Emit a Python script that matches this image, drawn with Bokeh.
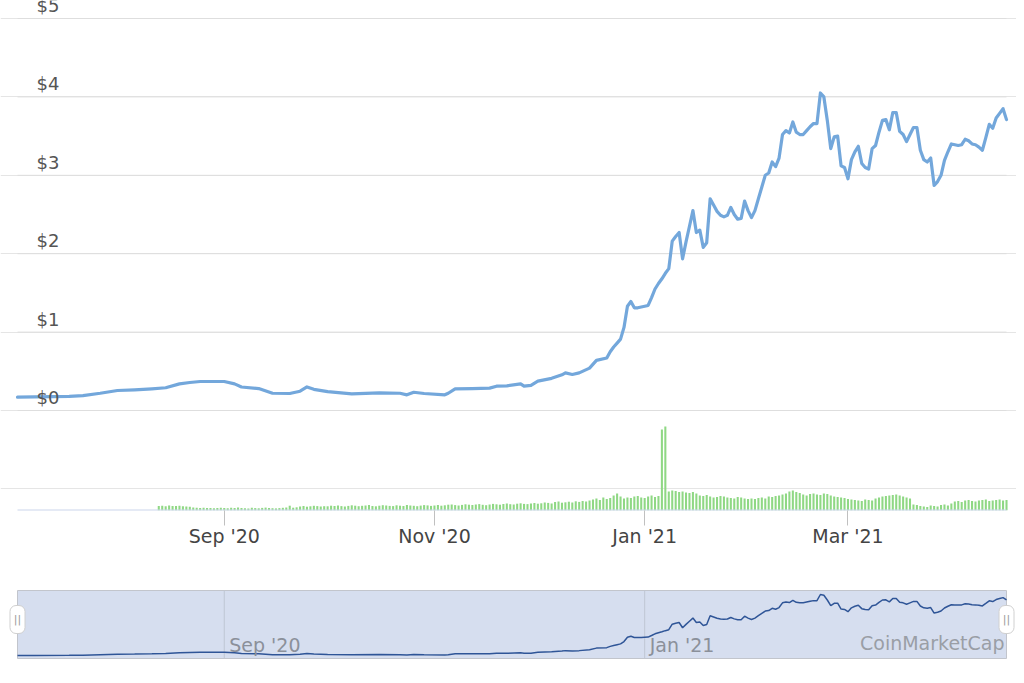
import numpy as np
import pandas as pd
from bokeh.plotting import figure
from bokeh.models import ColumnDataSource, Range1d, FixedTicker
from bokeh.layouts import column
from bokeh.embed import file_html
from bokeh.resources import INLINE
from bokeh.core.properties import value

# ---------------- data ----------------
# price, sparse readings (USD)
price_dates_early = [
    "2020-07-03", "2020-07-08", "2020-07-18", "2020-07-22", "2020-07-27", "2020-08-01",
    "2020-08-06", "2020-08-11", "2020-08-15", "2020-08-19", "2020-08-22", "2020-08-25",
    "2020-09-01", "2020-09-04", "2020-09-06", "2020-09-11", "2020-09-15", "2020-09-20",
    "2020-09-23", "2020-09-25", "2020-09-27", "2020-10-01", "2020-10-08", "2020-10-16",
    "2020-10-22", "2020-10-24", "2020-10-26", "2020-10-29", "2020-11-04", "2020-11-05",
    "2020-11-07", "2020-11-12", "2020-11-17", "2020-11-19", "2020-11-22", "2020-11-26",
    "2020-11-27", "2020-11-29", "2020-12-01", "2020-12-05", "2020-12-08", "2020-12-09",
    "2020-12-11", "2020-12-13", "2020-12-16", "2020-12-18", "2020-12-21",
]
price_early = [
    0.17, 0.175, 0.18, 0.19, 0.22, 0.255,
    0.264, 0.277, 0.29, 0.34, 0.357, 0.37,
    0.37, 0.34, 0.30, 0.28, 0.22, 0.217,
    0.246, 0.30, 0.27, 0.24, 0.213, 0.226,
    0.22, 0.20, 0.233, 0.217, 0.20, 0.22,
    0.277, 0.28, 0.285, 0.31, 0.315, 0.34,
    0.31, 0.32, 0.374, 0.41, 0.455, 0.48,
    0.46, 0.48, 0.54, 0.64, 0.67,
]
# price, daily readings (USD) from this date on
price_daily_start = "2020-12-22"
price_dec = [0.75, 0.81, 0.86, 0.91, 1.06, 1.33, 1.39, 1.31, 1.31, 1.32]
price_jan = [1.33, 1.34, 1.44, 1.55, 1.62, 1.68, 1.75, 1.81, 2.16, 2.22, 2.27, 1.935, 2.15,
             2.35, 2.55, 2.27, 2.30, 2.08, 2.14, 2.70, 2.62, 2.54, 2.49, 2.47, 2.49, 2.59,
             2.50, 2.44, 2.45, 2.67, 2.55]
price_feb = [2.46, 2.55, 2.70, 2.85, 3.00, 3.03, 3.17, 3.11, 3.22, 3.52, 3.57, 3.54, 3.68,
             3.55, 3.52, 3.52, 3.57, 3.62, 3.66, 3.66, 4.05, 4.00, 3.70, 3.34, 3.49, 3.50,
             3.12, 3.10]
price_mar = [2.955, 3.20, 3.30, 3.37, 3.15, 3.10, 3.08, 3.34, 3.38, 3.55, 3.70, 3.71, 3.58,
             3.80, 3.80, 3.56, 3.52, 3.43, 3.52, 3.61, 3.61, 3.32, 3.20, 3.17, 3.22, 2.87,
             2.92, 3.00, 3.19, 3.30, 3.40]
price_apr = [3.39, 3.38, 3.39, 3.46, 3.44, 3.40, 3.39, 3.36, 3.32, 3.48, 3.65, 3.60, 3.73,
             3.79, 3.85, 3.71]

# daily volume (million USD) from this date on
volume_start = "2020-08-13"
vol_aug = [45, 48, 42, 50, 46, 44, 47, 43, 40, 38, 30, 28, 25, 27, 24, 26, 22, 25, 28]
vol_sep = [25, 22, 28, 24, 30, 26, 23, 21, 27, 24, 22, 26, 29, 25, 23, 21, 24, 27, 30, 48,
           28, 32, 40, 45, 38, 42, 47, 44, 40, 43]
vol_oct = [42, 48, 45, 50, 44, 40, 46, 52, 48, 43, 47, 50, 55, 45, 42, 48, 53, 50, 46, 44,
           52, 48, 45, 55, 50, 47, 43, 49, 54, 51, 46]
vol_nov = [50, 55, 48, 52, 58, 60, 54, 50, 56, 62, 58, 55, 60, 64, 57, 53, 60, 66, 62, 58,
           65, 70, 63, 60, 68, 72, 66, 64, 70, 75]
vol_dec = [68, 72, 80, 76, 70, 85, 90, 78, 82, 88, 80, 92, 86, 95, 90, 100, 110, 120, 105,
           130, 115, 125, 150, 170, 140, 120, 130, 125, 140, 145, 130]
vol_jan = [125, 140, 150, 135, 145, 810, 840, 190, 200, 195, 185, 190, 180, 175, 185, 170,
           150, 145, 155, 140, 130, 135, 145, 140, 130, 125, 120, 135, 130, 120, 115]
vol_feb = [120, 115, 125, 130, 120, 140, 135, 145, 150, 160, 170, 190, 200, 185, 175, 160,
           150, 165, 170, 160, 155, 170, 165, 150, 140, 135, 130, 125]
vol_mar = [115, 110, 105, 100, 95, 110, 105, 100, 120, 130, 140, 145, 150, 155, 160, 150,
           140, 130, 120, 60, 55, 45, 40, 35, 50, 45, 40, 55, 60, 50, 70]
vol_apr = [90, 95, 85, 100, 105, 95, 90, 100, 105, 110, 95, 100, 105, 110, 100, 105]

x_tick_dates = ["2020-09-01", "2020-11-01", "2021-01-01", "2021-03-01"]
x_tick_labels = ["Sep '20", "Nov '20", "Jan '21", "Mar '21"]
y_ticks = [0, 1, 2, 3, 4, 5]
y_tick_labels = ["$0", "$1", "$2", "$3", "$4", "$5"]
nav_tick_dates = ["2020-09-01", "2021-01-01"]
nav_tick_labels = ["Sep '20", "Jan '21"]
credit_text = "CoinMarketCap"


def to_ms(dates):
    return pd.to_datetime(pd.Series(dates)).values.astype("datetime64[ms]").astype("int64").astype(float)


price_daily = price_dec + price_jan + price_feb + price_mar + price_apr
daily_dates = pd.date_range(price_daily_start, periods=len(price_daily), freq="D")
px = np.concatenate([to_ms(price_dates_early), to_ms(list(daily_dates.strftime("%Y-%m-%d")))])
py = np.array(price_early + price_daily, dtype=float)

volume = vol_aug + vol_sep + vol_oct + vol_nov + vol_dec + vol_jan + vol_feb + vol_mar + vol_apr
vol_dates = pd.date_range(volume_start, periods=len(volume), freq="D")
vx = to_ms(list(vol_dates.strftime("%Y-%m-%d")))

DAY = 86400000.0
FONT = "DejaVu Sans"
W = 1016

# ---------------- shared x range (plot area spans 17..1006 px of the frame) ----------------
x0, x1 = float(px[0]), float(px[-1])
ms_per_px = (x1 - x0) / 989.0
xr = Range1d(x0 - 17 * ms_per_px, x1 + (W - 1006) * ms_per_px)

# ---------------- main chart ----------------
PX_PER_USD = 78.4
FRAME_H = 510
ZERO_Y = 410
y_lo = (ZERO_Y - FRAME_H) / PX_PER_USD
p = figure(width=W, height=589, x_range=xr,
           y_range=Range1d(y_lo, ZERO_Y / PX_PER_USD),
           output_backend="svg", toolbar_location=None,
           y_axis_location=None, x_axis_location="below",
           min_border_left=0, min_border_right=0, min_border_top=0, min_border_bottom=79)
p.outline_line_color = None
p.background_fill_color = "white"
p.border_fill_color = "white"
p.xgrid.visible = False

# horizontal price grid lines across the plot area only
p.segment(x0=[x0] * len(y_ticks), x1=[x1] * len(y_ticks), y0=y_ticks, y1=y_ticks,
          line_color="#dedede", line_width=1)

p.extra_y_ranges = {"vol": Range1d(0, FRAME_H * 10)}
p.vbar(x=vx, top=volume, width=0.6 * DAY, y_range_name="vol",
       fill_color="#8fd884", line_color=None)
# baseline of the volume panel
p.segment(x0=[x0], x1=[x1], y0=[0], y1=[0], y_range_name="vol",
          line_color="#ccd6eb", line_width=2)

p.line(px, py, line_width=3.2, line_color="#73a7db", line_join="round", line_cap="round")

ysrc = ColumnDataSource(dict(x=[x0] * len(y_ticks), y=y_ticks, t=y_tick_labels))
p.text(x="x", y="y", text="t", source=ysrc, x_offset=19, y_offset=-13,
       text_font=value(FONT), text_font_size="18px", text_color="#555555",
       text_baseline="alphabetic", text_align="left")

ax = p.xaxis[0]
tick_ms = to_ms(x_tick_dates)
ax.ticker = FixedTicker(ticks=list(tick_ms))
ax.major_label_overrides = {int(t): lab for t, lab in zip(tick_ms, x_tick_labels)}
ax.axis_line_color = None
ax.major_tick_line_color = "#c0c0c0"
ax.major_tick_in = 0
ax.major_tick_out = 15
ax.minor_tick_line_color = None
ax.major_label_text_font = FONT
ax.major_label_text_font_size = "19px"
ax.major_label_text_color = "#444444"
ax.major_label_standoff = -1

# ---------------- navigator ----------------
pmin, pmax = float(py.min()), float(py.max())
upp = (pmax - pmin) / 61.0
box_b = pmin - 3 * upp
box_t = pmax + 4 * upp
nyr = Range1d(box_b - upp, box_t + upp)

n = figure(width=W, height=80, x_range=xr, y_range=nyr,
           output_backend="svg", toolbar_location=None,
           x_axis_location=None, y_axis_location=None,
           min_border_left=0, min_border_right=0, min_border_top=0, min_border_bottom=10)
n.outline_line_color = None
n.xgrid.visible = False
n.ygrid.visible = False

n.quad(left=[x0], right=[x1], bottom=[box_b], top=[box_t],
       fill_color="#d6deef", line_color="#c2c5cc", line_width=1)
nav_ms = to_ms(nav_tick_dates)
n.segment(x0=nav_ms, x1=nav_ms, y0=[box_b] * len(nav_ms), y1=[box_t] * len(nav_ms),
          line_color="#bfc6d3", line_width=1)
n.line(px, py, line_color="#2f5597", line_width=1.5)

nsrc = ColumnDataSource(dict(x=nav_ms, y=[box_b] * len(nav_ms), t=nav_tick_labels))
n.text(x="x", y="y", text="t", source=nsrc, x_offset=5, y_offset=-14,
       text_font=value(FONT), text_font_size="19px", text_color="#8b909a",
       text_baseline="alphabetic", text_align="left")
n.text(x=[x1], y=[box_b], text=[credit_text], x_offset=-2, y_offset=-16,
       text_font=value(FONT), text_font_size="19px", text_color="#9a9ea6",
       text_baseline="alphabetic", text_align="right")

mid = (box_b + box_t) / 2 + 5 * upp
n.rect(x=[x0, x1], y=[mid, mid], width=15, height=28, width_units="screen", height_units="screen",
       fill_color="white", line_color="#d0d0d0", border_radius=6)
n.text(x=[x0, x1], y=[mid, mid], text=["||", "||"], text_font=value(FONT), text_font_size="11px",
       text_color="#9a9a9a", text_align="center", text_baseline="middle")

layout = column(p, n, spacing=0)
open("out.html", "w").write(file_html(layout, INLINE))
